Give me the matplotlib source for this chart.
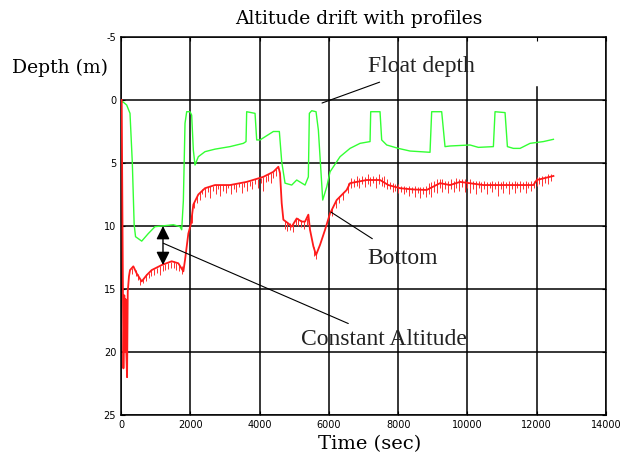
import matplotlib
matplotlib.use("Agg")
import matplotlib.pyplot as plt

plt.rcParams['axes.unicode_minus'] = False

# ---- data ----
float_t = [20, 49, 164, 260, 327, 380, 420, 598, 788, 982, 1175, 1510, 1703, 1752, 1800, 1848, 1896,
           1992, 2040, 2088, 2136, 2232, 2425, 2714, 3147, 3532, 3609, 3628, 3869, 3917, 4013, 4398,
           4571, 4639, 4735, 4928, 5072, 5312, 5408, 5437, 5505, 5630, 5697, 5745, 5823, 5938, 6034,
           6226, 6323, 6611, 6900, 7189, 7208, 7477, 7525, 7670, 8006, 8343, 8920, 8968, 9257, 9353,
           9498, 10075, 10316, 10749, 10797, 11086, 11154, 11327, 11519, 11808, 12193, 12482]
float_d = [0.2, 0.13, 0.4, 1.06, 5.0, 9.9, 10.85, 11.2, 10.6, 10.05, 10.0, 9.9, 10.05, 10.3, 8.0, 1.85, 0.93,
           0.93, 1.2, 3.97, 5.16, 4.5, 4.1, 3.9, 3.7, 3.44, 3.3, 0.93, 1.06, 3.17, 3.17, 2.5,
           2.5, 4.9, 6.6, 6.75, 6.35, 6.75, 6.1, 1.06, 0.85, 0.93, 2.38, 4.5, 7.94, 6.9, 5.7,
           4.9, 4.5, 3.84, 3.44, 3.3, 0.93, 0.93, 3.17, 3.57, 3.84, 4.05, 4.15, 0.93, 0.93, 3.7,
           3.65, 3.57, 3.76, 3.7, 0.93, 1.0, 3.7, 3.84, 3.84, 3.44, 3.3, 3.12]

bottom_t = [20, 70, 95, 110, 130, 150, 175, 195, 230, 260, 356, 452, 597, 741, 885, 1175, 1463, 1655,
            1800, 1848, 1944, 2021, 2088, 2232, 2425, 2714, 3147, 3628, 4109, 4398, 4542, 4590, 4639,
            4687, 4831, 4928, 5072, 5216, 5312, 5408, 5456, 5552, 5630, 5745, 5890, 6034, 6226, 6515,
            6611, 7093, 7477, 7717, 8054, 8439, 8824, 9209, 9498, 9787, 10460, 11423, 11904, 12001, 12482]
bottom_d = [0.0, 21.3, 15.5, 20.0, 15.8, 19.8, 22.0, 15.2, 14.0, 13.5, 13.2, 13.76, 14.4, 13.9, 13.5, 13.1, 12.8, 12.96,
            13.6, 12.7, 10.6, 9.8, 8.3, 7.5, 7.0, 6.75, 6.75, 6.5, 6.1, 5.7, 5.3, 5.8, 8.2,
            9.5, 9.8, 10.05, 9.4, 9.65, 9.65, 9.1, 10.3, 11.6, 12.3, 11.5, 10.3, 9.0, 7.94, 7.14,
            6.6, 6.35, 6.35, 6.75, 7.0, 7.1, 7.14, 6.6, 6.75, 6.5, 6.75, 6.75, 6.75, 6.35, 6.03]

# noise spikes on the bottom trace (time, shallow end, deep end)
spike_t = [330, 420, 480, 560, 640, 720, 800, 880, 960, 1040, 1120, 1200, 1280, 1360, 1440, 1520, 1600, 1680, 1760,
           2050, 2120, 2180,
           2280, 2350, 2430, 2520, 2580, 2660, 2730, 2800, 2870, 2950, 3020, 3090, 3180, 3260, 3330, 3400,
           3480, 3550, 3640, 3720, 3790, 3870, 3950, 4030, 4110, 4180, 4250, 4330, 4400, 4470,
           4720, 4800, 4880, 4960, 5040, 5120, 5200, 5280, 5360, 5580, 5640,
           6100, 6200, 6300, 6400,
           6560, 6640, 6720, 6800, 6880, 6960, 7040, 7120, 7200, 7280, 7360, 7440, 7520, 7600, 7680, 7760,
           7840, 7920, 8000, 8080, 8160, 8240, 8320, 8400, 8480, 8560, 8640, 8720, 8800, 8880, 8960, 9040,
           9120, 9200, 9280, 9360, 9440, 9520, 9600, 9680, 9760, 9840, 9920, 10000, 10080, 10160, 10240,
           10320, 10400, 10480, 10560, 10640, 10720, 10800, 10880, 10960, 11040, 11120, 11200, 11280, 11360,
           11440, 11520, 11600, 11680, 11760, 11840, 11920, 12000, 12080, 12160, 12240, 12320, 12400]
spike_top = [13.3, 13.5, 13.8, 14.2, 14.1, 13.8, 13.7, 13.5, 13.4, 13.3, 13.2, 13.1, 13.0, 12.9, 12.85, 12.8, 12.9, 13.0, 13.2,
             9.0, 8.0, 7.6,
             7.3, 7.1, 7.0, 6.9, 6.85, 6.8, 6.75, 6.75, 6.75, 6.75, 6.75, 6.75, 6.7, 6.7, 6.65, 6.6,
             6.55, 6.5, 6.5, 6.45, 6.4, 6.3, 6.25, 6.2, 6.1, 6.0, 5.9, 5.8, 5.7, 5.5,
             9.6, 9.7, 9.8, 9.9, 9.4, 9.4, 9.5, 9.6, 9.4, 11.7, 12.1,
             8.6, 8.0, 7.6, 7.3,
             6.6, 6.2, 6.3, 6.0, 6.2, 6.0, 6.1, 5.9, 6.1, 6.0, 6.1, 5.9, 6.1, 6.0, 6.3, 6.5,
             6.6, 6.7, 6.7, 6.8, 6.8, 6.9, 6.8, 6.9, 6.8, 6.9, 6.9, 6.9, 6.8, 6.6, 6.5, 6.4,
             6.3, 6.3, 6.3, 6.4, 6.4, 6.3, 6.4, 6.2, 6.3, 6.3, 6.3, 6.4, 6.3, 6.4, 6.4,
             6.4, 6.5, 6.4, 6.5, 6.5, 6.4, 6.5, 6.4, 6.5, 6.4, 6.5, 6.4, 6.5, 6.4,
             6.5, 6.4, 6.5, 6.4, 6.5, 6.4, 6.4, 6.1, 6.1, 6.0, 6.0, 5.9, 5.9]
spike_bot = [13.8, 14.0, 14.3, 14.7, 14.5, 14.4, 14.1, 14.0, 13.9, 13.7, 13.9, 13.6, 13.5, 13.4, 13.3, 13.3, 13.5, 13.6, 13.8,
             9.8, 8.6, 8.2,
             7.9, 7.5, 7.7, 7.3, 7.8, 7.2, 7.5, 7.1, 7.6, 7.2, 7.4, 7.0, 7.5, 7.1, 7.3, 6.9,
             7.4, 6.9, 7.2, 6.8, 7.1, 6.7, 7.0, 6.6, 7.2, 6.5, 6.4, 6.6, 6.2, 6.0,
             10.2, 10.4, 10.3, 10.5, 9.9, 10.0, 10.1, 10.2, 9.9, 12.4, 12.6,
             9.2, 8.6, 8.2, 7.9,
             7.4, 7.0, 6.9, 6.8, 7.0, 6.7, 6.9, 6.7, 6.8, 6.6, 7.0, 6.7, 6.8, 6.9, 7.1, 7.1,
             7.3, 7.2, 7.4, 7.3, 7.5, 7.3, 7.6, 7.4, 7.7, 7.4, 7.8, 7.5, 7.7, 7.5, 7.7, 7.3,
             7.4, 7.0, 7.3, 7.1, 7.4, 7.1, 7.3, 7.0, 7.2, 6.9, 7.3, 7.0, 7.4, 7.1, 7.5,
             7.0, 7.3, 7.1, 7.5, 7.0, 7.3, 7.1, 7.6, 7.1, 7.4, 7.0, 7.5, 7.1, 7.4,
             7.0, 7.3, 7.1, 7.4, 7.0, 7.2, 7.0, 6.8, 6.7, 6.8, 6.6, 6.7, 6.4]

x_ticks = [0, 2000, 4000, 6000, 8000, 10000, 12000, 14000]
y_ticks = [-5, 0, 5, 10, 15, 20, 25]
x_grid_top = [-5, -5, -5, -5, -5, -5, -1.0, -5]

fig = plt.figure(figsize=(6.37, 4.58), dpi=100)
ax = fig.add_axes([121/637, 43/458, 485/637, 378/458])

# grid
for xv, top in zip(x_ticks, x_grid_top):
    ax.plot([xv, xv], [top, 25], color='black', lw=1.1, zorder=1)
for yv in y_ticks:
    ax.axhline(yv, color='black', lw=1.1, zorder=1)

ax.plot(float_t, float_d, color='#33ff33', lw=1.0, zorder=3)
ax.vlines(spike_t, spike_top, spike_bot, color='#ff3030', lw=0.7, zorder=3)
ax.plot(bottom_t, bottom_d, color='#ff1a1a', lw=1.3, zorder=3)

ax.set_xlim(0, 14000)
ax.set_ylim(25, -5)
ax.set_xticks(x_ticks)
ax.set_yticks(y_ticks)
ax.tick_params(direction='in', top=True, right=True, labelsize=7, length=3, width=0.8)
for s in ax.spines.values():
    s.set_linewidth(1.1)

# double arrow (constant altitude)
ax.annotate('', xy=(1212, 10.0), xytext=(1212, 13.1),
            arrowprops=dict(arrowstyle='<|-|>', color='black', lw=1.0, mutation_scale=20,
                            shrinkA=0, shrinkB=0), zorder=5)

serif = 'Liberation Serif'
ax.annotate('Float depth', xy=(5803, 0.24), xytext=(7131, -2.62),
            fontsize=17, family=serif, va='center', ha='left', color='#222222',
            arrowprops=dict(arrowstyle='-', color='black', lw=0.8, shrinkA=4, shrinkB=0))
ax.annotate('Bottom', xy=(6063, 8.9), xytext=(7102, 12.54),
            fontsize=17, family=serif, va='center', ha='left', color='#222222',
            arrowprops=dict(arrowstyle='-', color='black', lw=0.8, shrinkA=8, shrinkB=0))
ax.annotate('Constant Altitude', xy=(1222, 11.37), xytext=(5197, 18.97),
            fontsize=17, family=serif, va='center', ha='left', color='#222222',
            arrowprops=dict(arrowstyle='-', color='black', lw=0.8, shrinkA=4, shrinkB=0))

slab = 'DejaVu Serif'
fig.text(359/637, 1 - 19/458, 'Altitude drift with profiles', ha='center', va='center',
         fontsize=13.5, family=slab)
fig.text(12/637, 1 - 68/458, 'Depth (m)', ha='left', va='center', fontsize=13.5, family=slab)
fig.text(370/637, 1 - 444/458, 'Time (sec)', ha='center', va='center', fontsize=14, family=slab)

fig.savefig('out.png', dpi=100)
